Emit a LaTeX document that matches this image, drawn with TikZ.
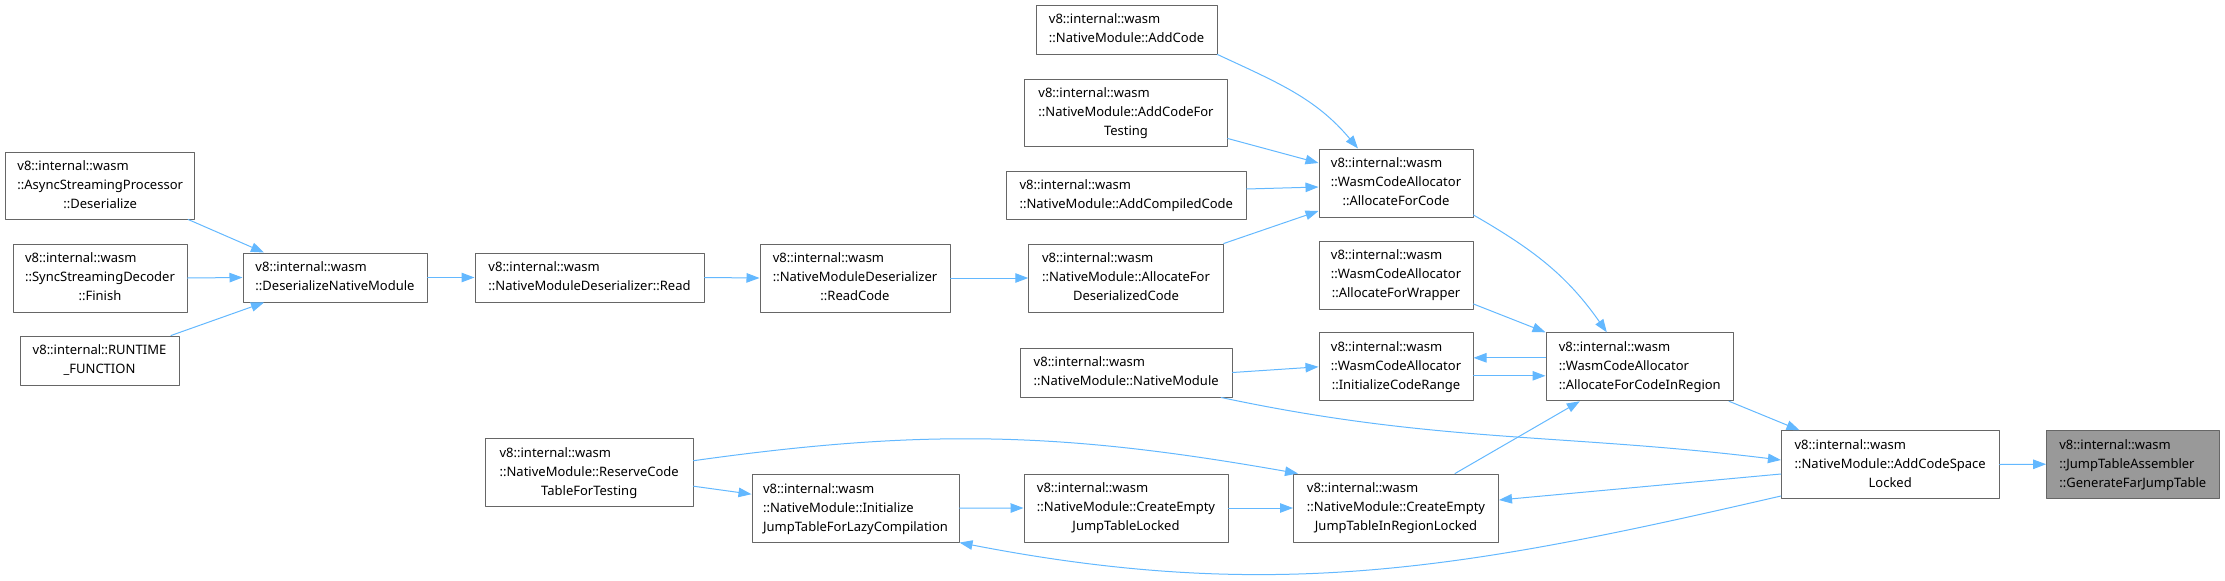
\documentclass[tikz,border=0pt]{standalone}
\usepackage{fontspec}
\setmainfont{Noto Sans}
\usetikzlibrary{arrows.meta}
\definecolor{edgeblue}{HTML}{63B8FF}
\definecolor{boxgray}{HTML}{666666}
\definecolor{hitgray}{HTML}{999999}
\newcommand{\lastln}[1]{\multicolumn{1}{@{}c@{}}{#1}}
\newcommand{\twoln}[2]{\begin{tabular}{@{}l@{}}#1\\\lastln{#2}\end{tabular}}
\newcommand{\threeln}[3]{\begin{tabular}{@{}l@{}}#1\\#2\\\lastln{#3}\end{tabular}}
\begin{document}
\begin{tikzpicture}[x=1pt,y=1pt,line cap=round,line join=round,font=\fontsize{13}{19}\selectfont,>={Triangle[length=13pt,width=9.5pt]}]
	\tikzset{fn/.style 2 args={draw=boxgray,line width=1pt,fill=white,inner sep=0pt,minimum width=#1pt,minimum height=#2pt},
		hit/.style 2 args={fn={#1}{#2},fill=hitgray},
		call/.style={->,draw=edgeblue,line width=1pt}}
	\useasboundingbox (0,0) rectangle (2225,-581);
	\node[fn={189.5}{67}] (async) at (100.2,-185.5) {\threeln{v8::internal::wasm}{::AsyncStreamingProcessor}{::Deserialize}};
	\node[fn={174}{68}] (sync) at (100,-278) {\threeln{v8::internal::wasm}{::SyncStreamingDecoder}{::Finish}};
	\node[fn={159}{49}] (runtime) at (99.5,-360.5) {\twoln{v8::internal::RUNTIME}{\_FUNCTION}};
	\node[fn={184}{49}] (dnm) at (335,-277.5) {\twoln{v8::internal::wasm}{::DeserializeNativeModule}};
	\node[fn={229}{49}] (read) at (589.5,-277.5) {\twoln{v8::internal::wasm}{::NativeModuleDeserializer::Read}};
	\node[fn={190}{68}] (readcode) at (855,-278) {\threeln{v8::internal::wasm}{::NativeModuleDeserializer}{::ReadCode}};
	\node[fn={194.5}{68}] (afdc) at (1126,-278) {\threeln{v8::internal::wasm}{::NativeModule::AllocateFor}{DeserializedCode}};
	\node[fn={181}{49}] (addcode) at (1126.5,-29.5) {\twoln{v8::internal::wasm}{::NativeModule::AddCode}};
	\node[fn={202.5}{67}] (addtesting) at (1126,-112.5) {\threeln{v8::internal::wasm}{::NativeModule::AddCodeFor}{Testing}};
	\node[fn={239.4}{48}] (addcompiled) at (1126.3,-195) {\twoln{v8::internal::wasm}{::NativeModule::AddCompiledCode}};
	\node[fn={154}{68}] (afc) at (1396,-183) {\threeln{v8::internal::wasm}{::WasmCodeAllocator}{::AllocateForCode}};
	\node[fn={154}{68}] (afw) at (1396,-275) {\threeln{v8::internal::wasm}{::WasmCodeAllocator}{::AllocateForWrapper}};
	\node[fn={154}{68}] (icr) at (1396,-366.8) {\threeln{v8::internal::wasm}{::WasmCodeAllocator}{::InitializeCodeRange}};
	\node[fn={211.6}{49}] (nm) at (1126.2,-372.5) {\twoln{v8::internal::wasm}{::NativeModule::NativeModule}};
	\node[fn={187.6}{68}] (afcir) at (1639.8,-366.8) {\threeln{v8::internal::wasm}{::WasmCodeAllocator}{::AllocateForCodeInRegion}};
	\node[fn={217.6}{67.6}] (acsl) at (1890.2,-464.5) {\threeln{v8::internal::wasm}{::NativeModule::AddCodeSpace}{Locked}};
	\node[hit={172.4}{68}] (gfjt) at (2132.8,-464.2) {\threeln{v8::internal::wasm}{::JumpTableAssembler}{::GenerateFarJumpTable}};
	\node[fn={207.6}{67.7}] (reserve) at (589.2,-472.2) {\threeln{v8::internal::wasm}{::NativeModule::ReserveCode}{TableForTesting}};
	\node[fn={207}{67.7}] (initjt) at (855.5,-508.2) {\threeln{v8::internal::wasm}{::NativeModule::Initialize}{JumpTableForLazyCompilation}};
	\node[fn={204}{68}] (cejtl) at (1126,-508) {\threeln{v8::internal::wasm}{::NativeModule::CreateEmpty}{JumpTableLocked}};
	\node[fn={205}{68}] (cejtirl) at (1396,-508) {\threeln{v8::internal::wasm}{::NativeModule::CreateEmpty}{JumpTableInRegionLocked}};
	\draw[call] ([xshift=88pt]async.south) -- ([xshift=-71pt]dnm.north);
	\draw[call] (sync.east) -- (dnm.west);
	\draw[call] ([xshift=71.5pt]runtime.north) -- ([xshift=-71pt]dnm.south);
	\draw[call] (dnm.east) -- (read.west);
	\draw[call] (read.east) -- (readcode.west);
	\draw[call] (readcode.east) -- (afdc.west);
	\draw[call] (afdc.north east) -- ([yshift=-28pt]afc.west);
	\draw[call] (addcode.south east) to[out=-25,in=130] ([xshift=-38pt]afc.north);
	\draw[call] ([yshift=-26pt]addtesting.east) -- ([yshift=20pt]afc.west);
	\draw[call] ([yshift=6pt]addcompiled.east) -- ([yshift=-4pt]afc.west);
	\draw[call] ([yshift=-32pt]afc.east) to[out=-30,in=125] ([xshift=-33pt]afcir.north);
	\draw[call] ([yshift=-29pt]afw.east) -- (afcir.north west);
	\draw[call] ([yshift=9pt]afcir.west) -- ([yshift=9pt]icr.east);
	\draw[call] ([yshift=-9pt]icr.east) -- ([yshift=-9pt]afcir.west);
	\draw[call] (nm.east) -- (icr.west);
	\draw[call] ([xshift=95pt]nm.south) to[out=-12,in=173] ([yshift=4.5pt]acsl.west);
	\draw[call] ([xshift=-5pt]afcir.south east) -- ([xshift=18.6pt]acsl.north west);
	\draw[call] (acsl.east) -- (gfjt.west);
	\draw[call] ([yshift=-9.5pt]acsl.west) -- ([yshift=8pt]cejtirl.east);
	\draw[call] ([xshift=59pt]cejtirl.north) -- ([xshift=-60pt]afcir.south);
	\draw[call] ([yshift=11.5pt]reserve.east) to[out=8,in=170] ([xshift=5pt]cejtirl.north west);
	\draw[call] ([yshift=-14pt]reserve.east) -- ([yshift=14pt]initjt.west);
	\draw[call] (initjt.east) -- (cejtl.west);
	\draw[call] (cejtl.east) -- (cejtirl.west);
	\draw[call] ([yshift=-31.5pt]acsl.west) to[out=193,in=-11] (initjt.south east);
\end{tikzpicture}
\end{document}
